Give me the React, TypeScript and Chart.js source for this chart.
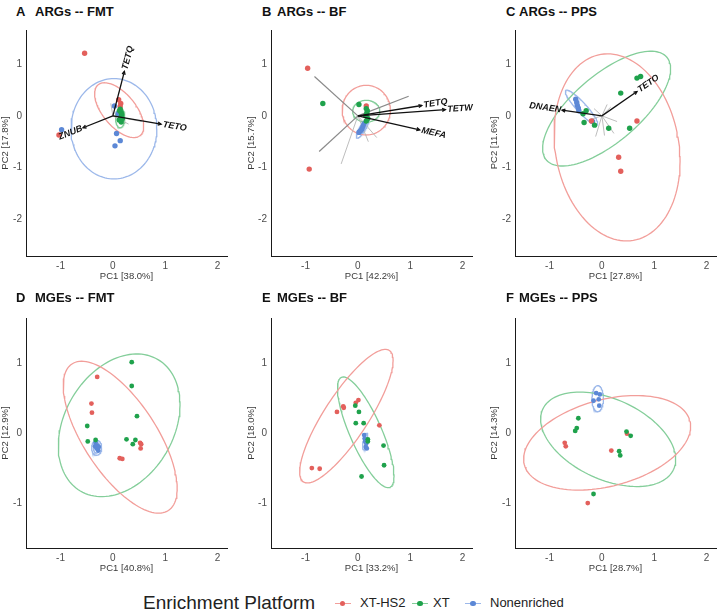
import React, { useEffect, useRef } from 'react';
import { Chart, registerables } from 'chart.js';
Chart.register(...registerables);

const FONT = 'Arial, "Liberation Sans", Helvetica, sans-serif';

// ---------- shared axis data ----------
const X_TICKS = [-1, 0, 1, 2];
const Y_TICKS_ARG = [-2, -1, 0, 1];
const Y_TICKS_MGE = [-1, 0, 1];
const X_RANGE = [-1.66, 2.18];
const Y_RANGE_ARG = [-2.71, 1.66];
const Y_RANGE_MGE = [-1.64, 1.64];

const GROUPS = ['XT-HS2', 'XT', 'Nonenriched'];
const POINT_COLORS: Record<string, string> = { hs2: '#E3605C', xt: '#1FA24C', non: '#5C88D6' };
const ELLIPSE_COLORS: Record<string, string> = { hs2: '#F29E9A', xt: '#84CE9A', non: '#9CB8EA' };

// ---------- Panel A: ARGs -- FMT ----------
const A_HS2 = [[-0.54, 1.21], [-1.03, -0.37], [0.11, 0.31], [0.15, 0.24], [0.14, 0.18]];
const A_XT = [[0.13, 0.1], [0.16, 0.06], [0.17, 0.02], [0.15, -0.03], [0.12, -0.08], [0.16, -0.12], [0.14, 0.13], [0.18, -0.05]];
const A_NON = [[-0.98, -0.27], [0.03, 0.19], [0.07, -0.34], [0.14, -0.48], [0.04, -0.58], [0.1, 0.04]];
const A_ELLIPSES = [
  ['non', 0.02, -0.25, 0.82, 0, 0, 0.97],
  ['hs2', 0.12, 0.11, 0.4, -0.491, 0.245, 0.199],
  ['xt', 0.14, -0.04, 0.09, 0, 0, 0.19],
];
const A_ARROWS = [['TETQ', 0.22, 0.86], ['TETO', 0.92, -0.16], ['ZNUB', -0.57, -0.23]];
const A_LOADINGS = [[0.55, -0.11], [-0.04, 0.24], [0.3, -0.16]];

// ---------- Panel B: ARGs -- BF ----------
const B_HS2 = [[-0.96, 0.92], [-0.93, -1.03], [0.16, 0.19]];
const B_XT = [[-0.67, 0.24], [0.02, 0.22], [0.16, 0.14], [0.18, 0.1], [0.17, 0.05], [0.15, 0.0], [0.19, -0.05], [0.16, -0.1]];
const B_NON = [[0.12, -0.15], [0.1, -0.2], [0.08, -0.25], [0.04, -0.3], [0.02, -0.32], [0.06, -0.28]];
const B_ELLIPSES = [
  ['hs2', 0.16, 0.11, 0.46, 0, 0, 0.48],
  ['xt', 0.16, 0.09, 0.26, 0, 0, 0.21],
  ['non', 0.09, -0.24, 0.11, 0.19, -0.05, 0.03],
];
const B_ARROWS = [['TETQ', 1.22, 0.2], ['TETW', 1.67, 0.12], ['MEFA', 1.18, -0.27]];
const B_LOADINGS = [[-0.83, 0.76], [-0.74, -0.69], [-0.32, -0.93], [0.97, 0.38], [0.36, -0.42], [0.2, -0.5]];

// ---------- Panel C: ARGs -- PPS ----------
const C_HS2 = [[-0.2, -0.1], [0.67, -0.1], [0.32, -0.8], [0.36, -1.07]];
const C_XT = [[0.67, 0.73], [0.74, 0.76], [0.36, 0.44], [-0.3, 0.1], [-0.36, 0.04], [-0.34, -0.13], [-0.14, -0.18], [0.13, -0.24], [0.53, -0.24]];
const C_NON = [[-0.5, 0.32], [-0.48, 0.26], [-0.47, 0.2], [-0.45, 0.15], [-0.44, 0.1], [-0.18, -0.11]];
const C_ELLIPSES = [
  ['hs2', 0.29, -0.61, 0.31, -1.798, 1.163, 0.2],
  ['xt', 0.09, 0.14, 1.147, 0.998, -0.423, 0.486],
  ['non', -0.39, 0.16, 0.301, -0.333, 0.07, 0.064],
];
const C_ARROWS = [['TETO', 0.67, 0.47], ['DNAEN', -0.76, 0.11]];
const C_LOADINGS = [[-0.12, -0.4], [0.23, -0.34], [0.17, 0.17], [-0.15, 0.14], [0.29, -0.11], [-0.25, -0.08], [0.05, -0.38], [0.1, 0.22]];

// ---------- Panel D: MGEs -- FMT ----------
const D_HS2 = [[-0.3, 0.8], [-0.41, 0.42], [-0.4, 0.29], [0.52, -0.14], [0.54, -0.16], [0.53, -0.22], [0.13, -0.36], [0.18, -0.37]];
const D_XT = [[0.36, 1.01], [0.36, 0.67], [0.46, 0.24], [-0.49, 0.1], [-0.48, -0.12], [-0.33, -0.1], [0.26, -0.09], [0.43, -0.1], [0.38, -0.16]];
const D_NON = [[-0.33, -0.14], [-0.3, -0.18], [-0.31, -0.22], [-0.28, -0.25], [-0.34, -0.19], [-0.27, -0.2]];
const D_ELLIPSES = [
  ['hs2', 0.14, -0.06, 0.921, -1.045, 0.58, 0.285],
  ['xt', 0.12, 0.11, 0.742, 0.937, -0.895, 0.396],
  ['non', -0.31, -0.21, 0.096, 0, 0, 0.107],
  ['non', -0.31, -0.21, 0.062, 0, 0, 0.075],
];

// ---------- Panel E: MGEs -- BF ----------
const E_HS2 = [[0.01, 0.47], [-0.04, 0.43], [-0.28, 0.38], [-0.27, 0.36], [-0.4, 0.3], [0.41, 0.11], [-0.88, -0.5], [-0.73, -0.51]];
const E_XT = [[-0.05, 0.39], [0.02, 0.3], [-0.04, 0.14], [0.11, 0.14], [0.19, -0.09], [0.19, -0.12], [0.49, -0.18], [0.5, -0.46], [0.07, -0.62]];
const E_NON = [[0.12, -0.03], [0.13, -0.08], [0.14, -0.12], [0.16, -0.15], [0.15, -0.2], [0.17, -0.22]];
const E_ELLIPSES = [
  ['hs2', -0.22, 0.24, 0.821, 0.937, -0.35, 0.171],
  ['xt', 0.15, 0.01, 0.463, -0.784, 0.278, 0.092],
  ['non', 0.14, -0.12, 0.03, 0.12, 0.04, 0],
];

// ---------- Panel F: MGEs -- PPS ----------
const F_HS2 = [[0.48, -0.01], [-0.71, -0.14], [-0.69, -0.19], [0.18, -0.25], [-0.27, -1.0]];
const F_XT = [[-0.45, 0.21], [-0.48, 0.07], [-0.51, 0.03], [0.47, 0.02], [0.55, -0.04], [0.33, -0.26], [0.35, -0.32], [-0.16, -0.87]];
const F_NON = [[-0.11, 0.57], [-0.04, 0.55], [-0.16, 0.46], [-0.06, 0.48], [-0.05, 0.39]];
const F_ELLIPSES = [
  ['hs2', 0.1, -0.14, 1.581, 0.313, -0.21, 0.597],
  ['xt', 0.12, -0.09, 1.251, -0.427, 0.317, 0.521],
  ['non', -0.08, 0.49, 0.11, 0, 0, 0.186],
];

const PANELS = [
  { letter: 'A', title: 'ARGs -- FMT', xLabel: 'PC1 [38.0%]', yLabel: 'PC2 [17.8%]', hs2: A_HS2, xt: A_XT, non: A_NON, ellipses: A_ELLIPSES, arrows: A_ARROWS, loadings: A_LOADINGS, yTicks: Y_TICKS_ARG, yRange: Y_RANGE_ARG },
  { letter: 'B', title: 'ARGs -- BF', xLabel: 'PC1 [42.2%]', yLabel: 'PC2 [15.7%]', hs2: B_HS2, xt: B_XT, non: B_NON, ellipses: B_ELLIPSES, arrows: B_ARROWS, loadings: B_LOADINGS, yTicks: Y_TICKS_ARG, yRange: Y_RANGE_ARG },
  { letter: 'C', title: 'ARGs -- PPS', xLabel: 'PC1 [27.8%]', yLabel: 'PC2 [11.6%]', hs2: C_HS2, xt: C_XT, non: C_NON, ellipses: C_ELLIPSES, arrows: C_ARROWS, loadings: C_LOADINGS, yTicks: Y_TICKS_ARG, yRange: Y_RANGE_ARG },
  { letter: 'D', title: 'MGEs -- FMT', xLabel: 'PC1 [40.8%]', yLabel: 'PC2 [12.9%]', hs2: D_HS2, xt: D_XT, non: D_NON, ellipses: D_ELLIPSES, arrows: [], loadings: [], yTicks: Y_TICKS_MGE, yRange: Y_RANGE_MGE },
  { letter: 'E', title: 'MGEs -- BF', xLabel: 'PC1 [33.2%]', yLabel: 'PC2 [18.0%]', hs2: E_HS2, xt: E_XT, non: E_NON, ellipses: E_ELLIPSES, arrows: [], loadings: [], yTicks: Y_TICKS_MGE, yRange: Y_RANGE_MGE },
  { letter: 'F', title: 'MGEs -- PPS', xLabel: 'PC1 [28.7%]', yLabel: 'PC2 [14.3%]', hs2: F_HS2, xt: F_XT, non: F_NON, ellipses: F_ELLIPSES, arrows: [], loadings: [], yTicks: Y_TICKS_MGE, yRange: Y_RANGE_MGE },
];

// ---------- layout (pixels) ----------
const COLS = [
  { left: 0, padLeft: 0, yWidth: 26, padRight: 13, letterX: 16, titleX: 35 },
  { left: 240, padLeft: 6, yWidth: 25, padRight: 8, letterX: 262, titleX: 277 },
  { left: 480, padLeft: 9, yWidth: 26, padRight: 3, letterX: 506, titleX: 519 },
];
const ROWS = [
  { top: 20, height: 270, padTop: 7, padBottom: 8, xHeight: 26, titleY: 12, r: 2.7 },
  { top: 300, height: 280, padTop: 18, padBottom: 6, xHeight: 26, titleY: 298, r: 2.4 },
];

function ellipsePoints(e: any[]) {
  const [, cx, cy, ux, uy, vx, vy] = e;
  const pts = [];
  const n = 120;
  for (let i = 0; i <= n; i++) {
    const t = (i / n) * Math.PI * 2;
    pts.push({ x: cx + ux * Math.cos(t) + vx * Math.sin(t), y: cy + uy * Math.cos(t) + vy * Math.sin(t) });
  }
  return pts;
}

function Panel({ p, col, row }: any) {
  const ref = useRef<HTMLCanvasElement>(null);
  useEffect(() => {
    const datasets: any[] = [];
    const groups: [string, number[][]][] = [['xt', p.xt], ['hs2', p.hs2], ['non', p.non]];
    groups.forEach(([g, pts]) => {
      datasets.push({
        data: pts.map(([x, y]) => ({ x, y })),
        backgroundColor: POINT_COLORS[g],
        borderColor: POINT_COLORS[g],
        borderWidth: 0,
        pointRadius: row.r,
        showLine: false,
      });
    });
    p.loadings.forEach(([x, y]: number[]) => {
      const len = Math.hypot(x, y);
      datasets.push({
        data: [{ x: 0, y: 0 }, { x, y }],
        borderColor: len > 1 ? '#8a8a8a' : '#b5b5b5',
        borderWidth: len > 1 ? 1.2 : 0.9,
        pointRadius: 0,
        showLine: true,
      });
    });
    p.ellipses.forEach((e: any[]) => {
      datasets.push({
        data: ellipsePoints(e),
        borderColor: ELLIPSE_COLORS[e[0]],
        borderWidth: 1.3,
        pointRadius: 0,
        showLine: true,
        tension: 0,
        fill: false,
      });
    });

    const arrows = p.arrows;
    const biplot = {
      id: 'biplot',
      afterDatasetsDraw(chart: any) {
        const { ctx } = chart;
        const xs = chart.scales.x;
        const ys = chart.scales.y;
        const ox = xs.getPixelForValue(0);
        const oy = ys.getPixelForValue(0);
        ctx.save();
        arrows.forEach(([label, ax, ay]: any[]) => {
          const tx = xs.getPixelForValue(ax);
          const ty = ys.getPixelForValue(ay);
          const ang = Math.atan2(ty - oy, tx - ox);
          ctx.strokeStyle = '#111';
          ctx.lineWidth = 1.3;
          ctx.beginPath();
          ctx.moveTo(ox, oy);
          ctx.lineTo(tx, ty);
          ctx.stroke();
          const hl = 3.5;
          ctx.beginPath();
          ctx.moveTo(tx - hl * Math.cos(ang - 0.45), ty - hl * Math.sin(ang - 0.45));
          ctx.lineTo(tx, ty);
          ctx.lineTo(tx - hl * Math.cos(ang + 0.45), ty - hl * Math.sin(ang + 0.45));
          ctx.stroke();
          ctx.fillStyle = '#111';
          ctx.font = `italic bold 9px ${FONT}`;
          ctx.textBaseline = 'middle';
          ctx.translate(tx, ty);
          if (ax >= 0) {
            ctx.rotate(ang);
            ctx.textAlign = 'left';
            ctx.fillText(label, 2, 0);
            ctx.rotate(-ang);
          } else {
            const a2 = ang + Math.PI;
            ctx.rotate(a2);
            ctx.textAlign = 'right';
            ctx.fillText(label, -1, 0);
            ctx.rotate(-a2);
          }
          ctx.translate(-tx, -ty);
        });
        ctx.restore();
      },
    };

    const tickFont = { size: 10, family: FONT };
    const titleFont = { size: 9.5, family: FONT };
    const chart = new Chart(ref.current as HTMLCanvasElement, {
      type: 'scatter',
      data: { datasets },
      plugins: [biplot],
      options: {
        animation: false,
        responsive: false,
        maintainAspectRatio: false,
        events: [],
        layout: { padding: { left: col.padLeft, right: col.padRight, top: row.padTop, bottom: row.padBottom } },
        plugins: { legend: { display: false }, tooltip: { enabled: false } },
        scales: {
          x: {
            type: 'linear',
            min: X_RANGE[0],
            max: X_RANGE[1],
            afterBuildTicks: (s: any) => { s.ticks = X_TICKS.map((v) => ({ value: v })); },
            afterFit: (s: any) => { s.height = row.xHeight; },
            grid: { display: false, drawTicks: false },
            border: { display: true, color: '#1a1a1a', width: 1 },
            ticks: { padding: 4, color: '#4d4d4d', font: tickFont },
            title: { display: true, text: p.xLabel, color: '#3a3a3a', font: titleFont, padding: { top: 0, bottom: 0 } },
          },
          y: {
            type: 'linear',
            min: p.yRange[0],
            max: p.yRange[1],
            afterBuildTicks: (s: any) => { s.ticks = p.yTicks.map((v: number) => ({ value: v })); },
            afterFit: (s: any) => { s.width = col.yWidth; },
            grid: { display: false, drawTicks: false },
            border: { display: true, color: '#1a1a1a', width: 1 },
            ticks: { padding: 4, color: '#4d4d4d', font: tickFont },
            title: { display: true, text: p.yLabel, color: '#3a3a3a', font: titleFont, padding: { top: 0, bottom: 0 } },
          },
        },
      } as any,
    });
    return () => chart.destroy();
  }, []);
  return (
    <>
      <canvas
        ref={ref}
        width={240}
        height={row.height}
        style={{ position: 'absolute', left: col.left, top: row.top, width: 240, height: row.height }}
      />
      <div style={{ position: 'absolute', left: col.letterX, top: row.titleY - 8, font: `bold 13px ${FONT}`, lineHeight: '16px', color: '#111', whiteSpace: 'nowrap' }}>
        {p.letter}
      </div>
      <div style={{ position: 'absolute', left: col.titleX, top: row.titleY - 8, font: `bold 13px ${FONT}`, lineHeight: '16px', color: '#111', whiteSpace: 'nowrap' }}>
        {p.title}
      </div>
    </>
  );
}

const LEGEND_ITEMS = [
  { key: 'hs2', markerX: 342.7, textX: 360 },
  { key: 'xt', markerX: 420, textX: 433 },
  { key: 'non', markerX: 473, textX: 490 },
];

export default function App() {
  return (
    <div style={{ position: 'absolute', left: 0, top: 0, width: 720, height: 612, background: '#fff', overflow: 'hidden' }}>
      {PANELS.map((p, i) => (
        <Panel key={p.letter} p={p} col={COLS[i % 3]} row={ROWS[Math.floor(i / 3)]} />
      ))}
      <div style={{ position: 'absolute', left: 143, top: 591, font: `19px ${FONT}`, lineHeight: '24px', color: '#222', whiteSpace: 'nowrap' }}>
        Enrichment Platform
      </div>
      {LEGEND_ITEMS.map((it, i) => (
        <React.Fragment key={it.key}>
          <div style={{ position: 'absolute', left: it.markerX - 8, top: 602.5, width: 16, height: 1.3, background: ELLIPSE_COLORS[it.key] }} />
          <div style={{ position: 'absolute', left: it.markerX - 2.6, top: 600.6, width: 5.2, height: 5.2, borderRadius: '50%', background: POINT_COLORS[it.key] }} />
          <div style={{ position: 'absolute', left: it.textX, top: 595, font: `13px ${FONT}`, lineHeight: '16px', color: '#222', whiteSpace: 'nowrap' }}>
            {GROUPS[i]}
          </div>
        </React.Fragment>
      ))}
    </div>
  );
}
